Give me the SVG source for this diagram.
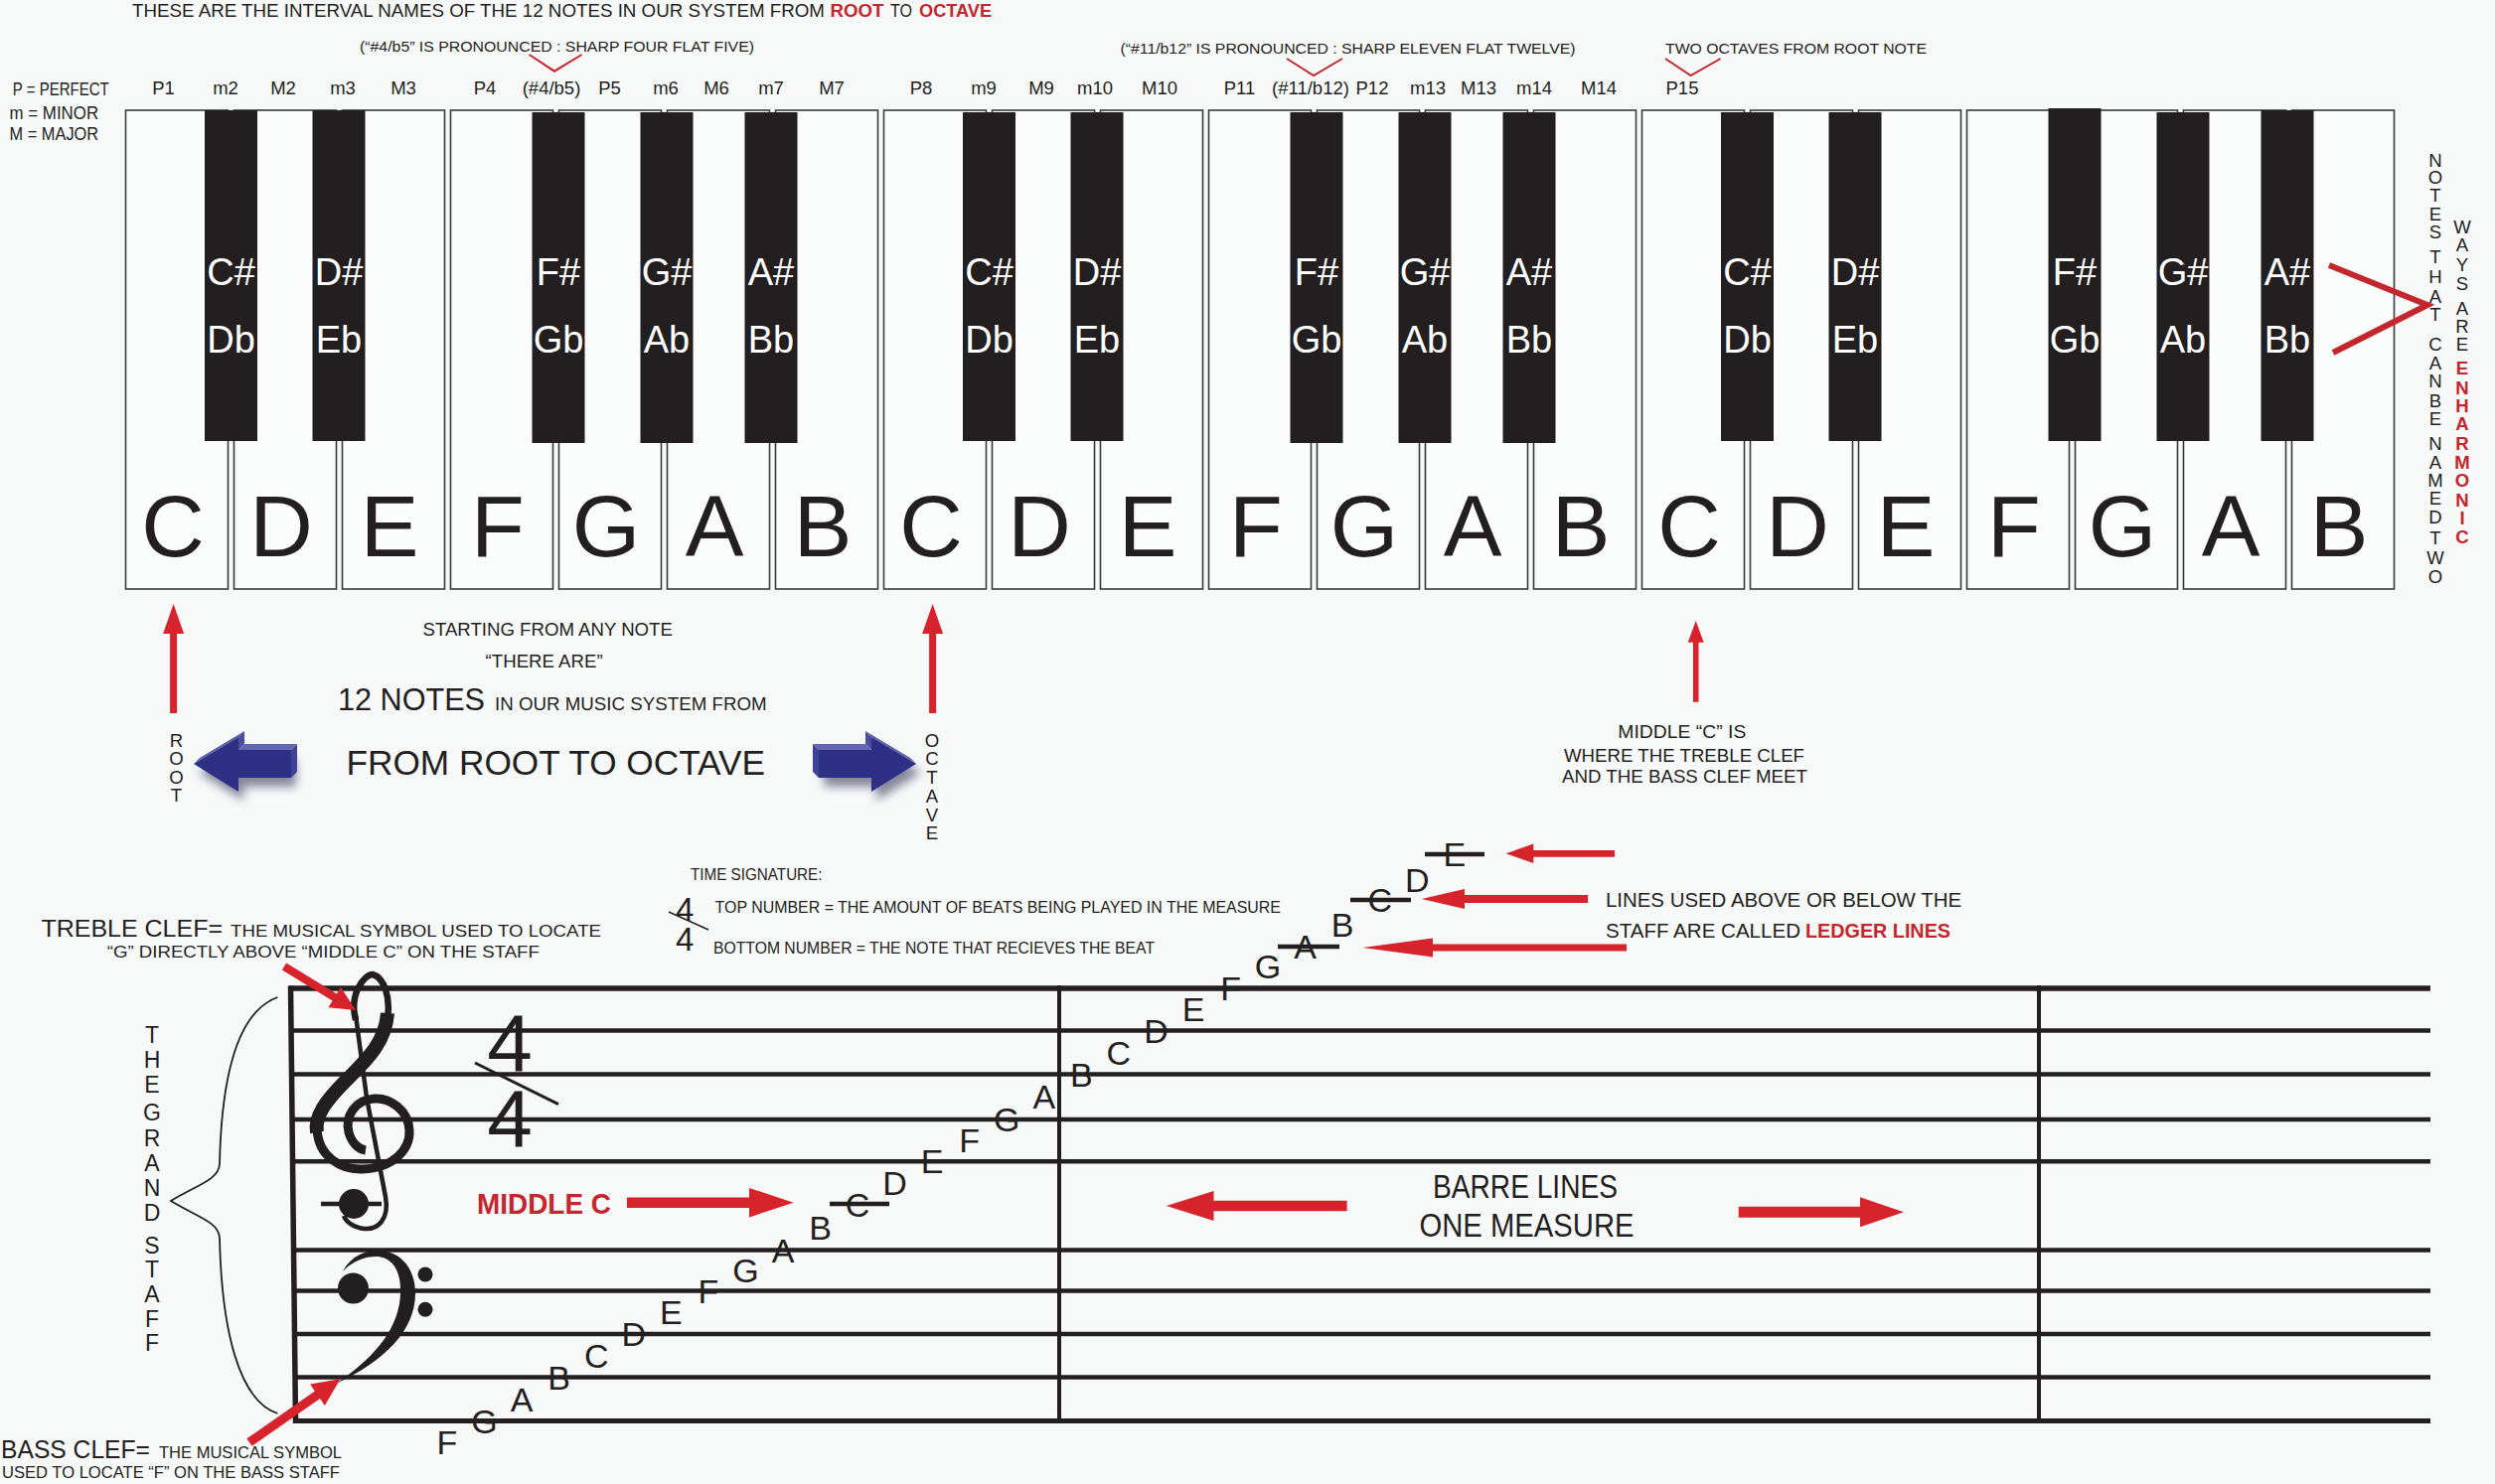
<svg xmlns="http://www.w3.org/2000/svg" width="2511" height="1494" viewBox="0 0 2511 1494">
<defs>
<style>
.t{font-family:"Liberation Sans",Arial,sans-serif;fill:#231f20}
.rb{font-family:"Liberation Sans",Arial,sans-serif;fill:#c4262e;font-weight:bold}
.iv{font-family:"Liberation Sans",Arial,sans-serif;fill:#231f20;font-size:18.5px;text-anchor:middle}
.wk{fill:#fbfcfc;stroke:#3a3a3a;stroke-width:1.6}
.bk{fill:#231f20}
.bl{font-family:"Liberation Sans",Arial,sans-serif;fill:#ffffff;font-size:38px;text-anchor:middle}
.wl{font-family:"Liberation Sans",Arial,sans-serif;fill:#231f20;font-size:88px;text-anchor:middle}
.v{font-family:"Liberation Sans",Arial,sans-serif;fill:#231f20;font-size:18.6px;text-anchor:middle}
.ra{fill:#d7232b}
.rl{fill:none;stroke:#c4262e;stroke-width:2}
.st{stroke:#231f20;stroke-width:4.5;fill:none}
.nl{font-family:"Liberation Sans",Arial,sans-serif;fill:#231f20;font-size:34px;text-anchor:middle}
.ink{fill:#231f20}
</style>
<filter id="sh" x="-40%" y="-40%" width="180%" height="200%"><feGaussianBlur stdDeviation="5"/></filter>
</defs>
<rect width="2511" height="1494" fill="#f7f9f9"/>

<g id="header">
<text class="t" x="133" y="16.5" font-size="18.5" textLength="697" lengthAdjust="spacingAndGlyphs">THESE ARE THE INTERVAL NAMES OF THE 12 NOTES IN OUR SYSTEM FROM</text>
<text class="rb" x="835.5" y="16.5" font-size="18.5" textLength="54" lengthAdjust="spacingAndGlyphs">ROOT</text>
<text class="t" x="896" y="16.5" font-size="18.5" textLength="22" lengthAdjust="spacingAndGlyphs">TO</text>
<text class="rb" x="925" y="16.5" font-size="18.5" textLength="73" lengthAdjust="spacingAndGlyphs">OCTAVE</text>
<text class="t" x="362" y="52" font-size="14.5" textLength="397" lengthAdjust="spacingAndGlyphs">(“#4/b5” IS PRONOUNCED : SHARP FOUR FLAT FIVE)</text>
<text class="t" x="1127.5" y="54" font-size="14.5" textLength="458" lengthAdjust="spacingAndGlyphs">(“#11/b12” IS PRONOUNCED : SHARP ELEVEN FLAT TWELVE)</text>
<text class="t" x="1676" y="54" font-size="14.5" textLength="263" lengthAdjust="spacingAndGlyphs">TWO OCTAVES FROM ROOT NOTE</text>
<polyline class="rl" points="532.6,55 558,71.7 585.5,55"/>
<polyline class="rl" points="1295,59 1322,76 1351,59"/>
<polyline class="rl" points="1676,59 1701.6,76 1731.6,59"/>
</g>

<g id="legend">
<text class="t" x="12.8" y="96" font-size="18.5" textLength="97" lengthAdjust="spacingAndGlyphs">P = PERFECT</text>
<text class="t" x="9.6" y="119.5" font-size="18.5" textLength="89.5" lengthAdjust="spacingAndGlyphs">m = MINOR</text>
<text class="t" x="9.6" y="141" font-size="18.5" textLength="89.5" lengthAdjust="spacingAndGlyphs">M = MAJOR</text>
</g>

<g id="intervals">
<text class="iv" x="164.5" y="95">P1</text>
<text class="iv" x="227" y="95">m2</text>
<text class="iv" x="285" y="95">M2</text>
<text class="iv" x="345" y="95">m3</text>
<text class="iv" x="406" y="95">M3</text>
<text class="iv" x="488" y="95">P4</text>
<text class="iv" x="555" y="95">(#4/b5)</text>
<text class="iv" x="613.5" y="95">P5</text>
<text class="iv" x="670" y="95">m6</text>
<text class="iv" x="721" y="95">M6</text>
<text class="iv" x="776" y="95">m7</text>
<text class="iv" x="837" y="95">M7</text>
<text class="iv" x="927" y="95">P8</text>
<text class="iv" x="990" y="95">m9</text>
<text class="iv" x="1048" y="95">M9</text>
<text class="iv" x="1102" y="95">m10</text>
<text class="iv" x="1167" y="95">M10</text>
<text class="iv" x="1247.5" y="95">P11</text>
<text class="iv" x="1319" y="95">(#11/b12)</text>
<text class="iv" x="1381" y="95">P12</text>
<text class="iv" x="1437" y="95">m13</text>
<text class="iv" x="1488" y="95">M13</text>
<text class="iv" x="1544" y="95">m14</text>
<text class="iv" x="1609" y="95">M14</text>
<text class="iv" x="1693" y="95">P15</text>
</g>

<g id="keyboard">
<g id="white-keys">
<rect class="wk" x="126.5" y="111" width="103" height="482"/>
<rect class="wk" x="235.5" y="111" width="103" height="482"/>
<rect class="wk" x="344.5" y="111" width="103" height="482"/>
<rect class="wk" x="453.5" y="111" width="103" height="482"/>
<rect class="wk" x="562.5" y="111" width="103" height="482"/>
<rect class="wk" x="671.5" y="111" width="103" height="482"/>
<rect class="wk" x="780.5" y="111" width="103" height="482"/>
<rect class="wk" x="889.5" y="111" width="103" height="482"/>
<rect class="wk" x="998.5" y="111" width="103" height="482"/>
<rect class="wk" x="1107.5" y="111" width="103" height="482"/>
<rect class="wk" x="1216.5" y="111" width="103" height="482"/>
<rect class="wk" x="1325.5" y="111" width="103" height="482"/>
<rect class="wk" x="1434.5" y="111" width="103" height="482"/>
<rect class="wk" x="1543.5" y="111" width="103" height="482"/>
<rect class="wk" x="1652.5" y="111" width="103" height="482"/>
<rect class="wk" x="1761.5" y="111" width="103" height="482"/>
<rect class="wk" x="1870.5" y="111" width="103" height="482"/>
<rect class="wk" x="1979.5" y="111" width="103" height="482"/>
<rect class="wk" x="2088.5" y="111" width="103" height="482"/>
<rect class="wk" x="2197.5" y="111" width="103" height="482"/>
<rect class="wk" x="2306.5" y="111" width="103" height="482"/>
<text class="wl" x="174 283 392 501 610 719 828 937 1046 1155 1264 1373 1482 1591 1700 1809 1918 2027 2136 2245 2354" y="560">CDEFGABCDEFGABCDEFGAB</text>
</g>
<g id="black-keys">
<rect class="bk" x="206" y="111" width="53" height="333"/>
<rect class="bk" x="314.5" y="111" width="53" height="333"/>
<rect class="bk" x="535.5" y="113" width="53" height="333"/>
<rect class="bk" x="644.5" y="113" width="53" height="333"/>
<rect class="bk" x="749.5" y="113" width="53" height="333"/>
<rect class="bk" x="969" y="113" width="53" height="331"/>
<rect class="bk" x="1077.5" y="113" width="53" height="331"/>
<rect class="bk" x="1298.5" y="113" width="53" height="333"/>
<rect class="bk" x="1407.5" y="113" width="53" height="333"/>
<rect class="bk" x="1512.5" y="113" width="53" height="333"/>
<rect class="bk" x="1732" y="113" width="53" height="331"/>
<rect class="bk" x="1840.5" y="113" width="53" height="331"/>
<rect class="bk" x="2061.5" y="109" width="53" height="335"/>
<rect class="bk" x="2170.5" y="113" width="53" height="331"/>
<rect class="bk" x="2275.5" y="111" width="53" height="333"/>
<text class="bl" x="232.5" y="287">C#</text><text class="bl" x="232.5" y="355">Db</text>
<text class="bl" x="341" y="287">D#</text><text class="bl" x="341" y="355">Eb</text>
<text class="bl" x="562" y="287">F#</text><text class="bl" x="562" y="355">Gb</text>
<text class="bl" x="671" y="287">G#</text><text class="bl" x="671" y="355">Ab</text>
<text class="bl" x="776" y="287">A#</text><text class="bl" x="776" y="355">Bb</text>
<text class="bl" x="995.5" y="287">C#</text><text class="bl" x="995.5" y="355">Db</text>
<text class="bl" x="1104" y="287">D#</text><text class="bl" x="1104" y="355">Eb</text>
<text class="bl" x="1325" y="287">F#</text><text class="bl" x="1325" y="355">Gb</text>
<text class="bl" x="1434" y="287">G#</text><text class="bl" x="1434" y="355">Ab</text>
<text class="bl" x="1539" y="287">A#</text><text class="bl" x="1539" y="355">Bb</text>
<text class="bl" x="1758.5" y="287">C#</text><text class="bl" x="1758.5" y="355">Db</text>
<text class="bl" x="1867" y="287">D#</text><text class="bl" x="1867" y="355">Eb</text>
<text class="bl" x="2088" y="287">F#</text><text class="bl" x="2088" y="355">Gb</text>
<text class="bl" x="2197" y="287">G#</text><text class="bl" x="2197" y="355">Ab</text>
<text class="bl" x="2302" y="287">A#</text><text class="bl" x="2302" y="355">Bb</text>
</g>
</g>

<g id="enharmonic-note">
<polyline points="2344,267 2443,307 2348,355" fill="none" stroke="#c4262e" stroke-width="6"/>
<text class="v" x="2451 2451 2451 2451 2451 2451 2451 2451 2451 2451 2451 2451 2451 2451 2451 2451 2451 2451 2451 2451 2451 2451 2451 2451 2451 2451 2451" y="168.4 185 203.4 221.7 240 250 265 285 305 323.4 335 353.4 371.7 390 400 410 428.4 440 453.4 471.7 490 508.4 526.7 537 548.4 568.4 586.7">NOTES THAT CAN BE NAMED TWO</text>
<text class="v" x="2478 2478 2478 2478 2478 2478 2478 2478" y="235 253.4 273.4 291.7 300 316.7 335 353.4">WAYS ARE</text>
<text class="v" style="fill:#c4262e;font-weight:bold" x="2478 2478 2478 2478 2478 2478 2478 2478 2478 2478" y="376.7 396.7 415 433.4 453.4 471.7 490 510 528.4 546.7">ENHARMONIC</text>
</g>

<g id="octave-explainer">
<text class="t" x="425.5" y="640" font-size="18.5" textLength="251.4" lengthAdjust="spacingAndGlyphs">STARTING FROM ANY NOTE</text>
<text class="t" x="488.6" y="671.7" font-size="18.5" textLength="118" lengthAdjust="spacingAndGlyphs">“THERE ARE”</text>
<text class="t" x="340" y="715" font-size="31" textLength="148" lengthAdjust="spacingAndGlyphs">12 NOTES</text>
<text class="t" x="498" y="715" font-size="18.5" textLength="273.6" lengthAdjust="spacingAndGlyphs">IN OUR MUSIC SYSTEM FROM</text>
<text class="t" x="348.5" y="780" font-size="35" textLength="421.5" lengthAdjust="spacingAndGlyphs">FROM ROOT TO OCTAVE</text>
<text class="v" x="177.5 177.5 177.5 177.5" y="751.5 769.5 788.5 806.5">ROOT</text>
<text class="v" x="938 938 938 938 938 938" y="751.5 769.5 788.5 807.5 826.5 844.5">OCTAVE</text>
</g>

<g id="blue-arrows">
<g id="blue-left">
<polygon points="195,769 240,742 240,755 293,755 293,783 240,783 240,797" fill="#14143c" opacity="0.5" transform="translate(5,9)" filter="url(#sh)"/>
<polygon points="195,769 240,742 246,736 201,763" fill="#5a5ead"/>
<polygon points="240,742 246,736 246,749 240,755" fill="#4a4ea2"/>
<polygon points="240,755 293,755 299,749 246,749" fill="#6266b3"/>
<polygon points="293,755 299,749 299,777 293,783" fill="#3d4197"/>
<polygon points="195,769 240,742 240,755 293,755 293,783 240,783 240,797" fill="#2e3086"/>
</g>
<g id="blue-right" transform="matrix(-1 0 0 1 1117 0)">
<polygon points="195,769 240,742 240,755 293,755 293,783 240,783 240,797" fill="#14143c" opacity="0.5" transform="translate(-5,9)" filter="url(#sh)"/>
<polygon points="195,769 240,742 246,736 201,763" fill="#5a5ead"/>
<polygon points="240,742 246,736 246,749 240,755" fill="#4a4ea2"/>
<polygon points="240,755 293,755 299,749 246,749" fill="#6266b3"/>
<polygon points="293,755 299,749 299,777 293,783" fill="#3d4197"/>
<polygon points="195,769 240,742 240,755 293,755 293,783 240,783 240,797" fill="#2e3086"/>
</g>
</g>

<g id="middle-c-note">
<text class="t" x="1628.3" y="743.3" font-size="18.5" textLength="129" lengthAdjust="spacingAndGlyphs">MIDDLE  “C” IS</text>
<text class="t" x="1574" y="766.7" font-size="18.5" textLength="242" lengthAdjust="spacingAndGlyphs">WHERE THE TREBLE CLEF</text>
<text class="t" x="1572" y="788.3" font-size="18.5" textLength="247" lengthAdjust="spacingAndGlyphs">AND THE BASS CLEF MEET</text>
</g>

<g id="time-signature-note">
<text class="t" x="695" y="886" font-size="16.5" textLength="132.5" lengthAdjust="spacingAndGlyphs">TIME SIGNATURE:</text>
<text class="t" x="689.3 689.3" y="927 957" font-size="33" text-anchor="middle">44</text>
<line x1="673" y1="918" x2="713" y2="936" stroke="#231f20" stroke-width="1.5"/>
<text class="t" x="719.6" y="919" font-size="16.5" textLength="569.4" lengthAdjust="spacingAndGlyphs">TOP NUMBER = THE AMOUNT OF BEATS BEING PLAYED IN THE MEASURE</text>
<text class="t" x="718" y="960" font-size="16.5" textLength="444" lengthAdjust="spacingAndGlyphs">BOTTOM NUMBER = THE NOTE THAT RECIEVES THE BEAT</text>
</g>

<g id="treble-note">
<text class="t" x="41.5" y="943.3" font-size="23.3" textLength="182.5" lengthAdjust="spacingAndGlyphs">TREBLE CLEF=</text>
<text class="t" x="232" y="943.3" font-size="16.5" textLength="373" lengthAdjust="spacingAndGlyphs">THE MUSICAL SYMBOL USED TO LOCATE</text>
<text class="t" x="107.8" y="964" font-size="16.5" textLength="435" lengthAdjust="spacingAndGlyphs">“G” DIRECTLY ABOVE “MIDDLE C” ON THE STAFF</text>
</g>

<g id="bass-note">
<text class="t" x="1" y="1468" font-size="25" textLength="150" lengthAdjust="spacingAndGlyphs">BASS CLEF=</text>
<text class="t" x="160" y="1468" font-size="17" textLength="184" lengthAdjust="spacingAndGlyphs">THE MUSICAL SYMBOL</text>
<text class="t" x="2" y="1488" font-size="17" textLength="340" lengthAdjust="spacingAndGlyphs">USED TO LOCATE “F” ON THE BASS STAFF</text>
</g>

<g id="ledger-note">
<text class="t" x="1616" y="913" font-size="21" textLength="358" lengthAdjust="spacingAndGlyphs">LINES USED ABOVE OR BELOW THE</text>
<text class="t" x="1616" y="944" font-size="21" textLength="196" lengthAdjust="spacingAndGlyphs">STAFF ARE CALLED</text>
<text class="rb" x="1817" y="944" font-size="21" textLength="146" lengthAdjust="spacingAndGlyphs">LEDGER LINES</text>
</g>

<g id="grand-staff-label">
<path d="M279.4,1004 C240,1018 223,1080 221,1172 C220,1188 198,1193 172,1209 C198,1225 220,1230 221,1246 C223,1338 240,1410 279.4,1423" fill="none" stroke="#231f20" stroke-width="1.8"/>
<text class="v" style="font-size:23px" x="153 153 153 153 153 153 153 153 153 153 153 153 153 153 153" y="1050 1075 1100 1114 1128.3 1154.3 1179 1204.3 1229 1245 1261.6 1286 1310.6 1335.6 1360">THE GRAND STAFF</text>
</g>

<g id="staff">
<line class="st" x1="291" y1="995" x2="2446" y2="995" style="stroke-width:5.5"/>
<line class="st" x1="292" y1="1037.5" x2="2446" y2="1037.5"/>
<line class="st" x1="292" y1="1081.5" x2="2446" y2="1081.5"/>
<line class="st" x1="293" y1="1127" x2="2446" y2="1127"/>
<line class="st" x1="293" y1="1169.3" x2="2446" y2="1169.3"/>
<line class="st" x1="294" y1="1258.5" x2="2446" y2="1258.5"/>
<line class="st" x1="295" y1="1299.5" x2="2446" y2="1299.5"/>
<line class="st" x1="295" y1="1343" x2="2446" y2="1343"/>
<line class="st" x1="296" y1="1386.5" x2="2446" y2="1386.5"/>
<line class="st" x1="296" y1="1430.5" x2="2446" y2="1430.5" style="stroke-width:5"/>
<line class="st" x1="292.5" y1="992.5" x2="297.5" y2="1433" style="stroke-width:5.5"/>
<line class="st" x1="1066" y1="992" x2="1066" y2="1433" style="stroke-width:4"/>
<line class="st" x1="2052" y1="992" x2="2052" y2="1433" style="stroke-width:4"/>
</g>

<g id="treble-clef">
<path d="M358,1027 C351,1000 367,981 375,981 C387,984 393,1005 390,1024" class="st" style="stroke-width:6.5"/>
<path d="M390,1020 C388,1050 368,1068 348,1088 C328,1108 316,1124 319,1140" class="st" style="stroke-width:14"/>
<path d="M319,1136 C320,1165 344,1178 365,1177 C396,1176 413,1157 412,1138 C411,1117 392,1105 377,1106 C357,1107 347,1124 351,1140 C354,1151 361,1157 368,1158" class="st" style="stroke-width:9"/>
<path d="M358,1022 L369,1105 L388,1205 C392,1228 380,1238 367,1237 C356,1236 348,1230 346,1224" class="st" style="stroke-width:4.5"/>
<circle class="ink" cx="356" cy="1212" r="15"/>
<line class="st" x1="323" y1="1212" x2="384" y2="1212"/>
</g>

<g id="bass-clef">
<path class="ink" d="M345,1280 C352,1266 366,1259 380,1259 C404,1259 418,1278 418,1302 C418,1340 386,1371 338,1393 C380,1365 402,1335 403,1302 C404,1280 395,1265 378,1265 C365,1265 352,1272 345,1280 Z"/>
<circle class="ink" cx="355.5" cy="1297" r="15.5"/>
<circle class="ink" cx="428" cy="1283" r="7.5"/>
<circle class="ink" cx="428" cy="1318.3" r="7.5"/>
</g>

<g id="time-signature">
<text class="t" x="513 513" y="1078.5 1155" font-size="82" text-anchor="middle">44</text>
<line x1="478" y1="1070" x2="562" y2="1111.7" stroke="#231f20" stroke-width="3"/>
</g>

<g id="ledger-lines">
<line class="st" x1="835" y1="1212" x2="895" y2="1212"/>
<line class="st" x1="1286" y1="953" x2="1348" y2="953"/>
<line class="st" x1="1359" y1="906" x2="1420" y2="906"/>
<line class="st" x1="1434" y1="860" x2="1494" y2="860"/>
</g>

<g id="note-names">
<text class="nl" x="450" y="1464">F</text>
<text class="nl" x="487.6" y="1442.5">G</text>
<text class="nl" x="525.1" y="1420.5">A</text>
<text class="nl" x="562.7" y="1398.5">B</text>
<text class="nl" x="600.2" y="1376.8">C</text>
<text class="nl" x="637.8" y="1355">D</text>
<text class="nl" x="675.3" y="1333.3">E</text>
<text class="nl" x="712.9" y="1311.5">F</text>
<text class="nl" x="750.4" y="1291">G</text>
<text class="nl" x="788" y="1270.5">A</text>
<text class="nl" x="825.5" y="1248">B</text>
<text class="nl" x="863.1" y="1224.5">C</text>
<text class="nl" x="900.6" y="1203">D</text>
<text class="nl" x="938.2" y="1181.3">E</text>
<text class="nl" x="975.7" y="1160">F</text>
<text class="nl" x="1013.3" y="1139">G</text>
<text class="nl" x="1050.8" y="1116">A</text>
<text class="nl" x="1088.4" y="1093.5">B</text>
<text class="nl" x="1125.9" y="1071.5">C</text>
<text class="nl" x="1163.5" y="1049.5">D</text>
<text class="nl" x="1201" y="1028">E</text>
<text class="nl" x="1238.6" y="1007">F</text>
<text class="nl" x="1276.1" y="985">G</text>
<text class="nl" x="1313.7" y="965">A</text>
<text class="nl" x="1351.2" y="943">B</text>
<text class="nl" x="1388.8" y="918">C</text>
<text class="nl" x="1426.3" y="898">D</text>
<text class="nl" x="1463.9" y="872">E</text>
</g>

<g id="middle-c-label">
<text class="rb" x="480" y="1221.7" font-size="30" textLength="135" lengthAdjust="spacingAndGlyphs">MIDDLE C</text>
</g>

<g id="barre-label">
<text class="t" x="1442" y="1206" font-size="33" textLength="186" lengthAdjust="spacingAndGlyphs">BARRE LINES</text>
<text class="t" x="1428.5" y="1245" font-size="33" textLength="216" lengthAdjust="spacingAndGlyphs">ONE MEASURE</text>
</g>

<g id="connectors">
<polygon class="ra" points="171.1,718 171.1,638 164.1,638 174.6,608 185.1,638 178.1,638 178.1,718"/>
<polygon class="ra" points="935.1,718 935.1,638 928.1,638 938.6,608 949.1,638 942.1,638 942.1,718"/>
<polygon class="ra" points="1703.9,706.7 1703.9,646.7 1698.7,646.7 1706.7,625 1714.7,646.7 1709.5,646.7 1709.5,706.7"/>
<polygon class="ra" points="1625,855.9 1543.3,855.9 1543.3,849.6 1515.6,859.3 1543.3,869 1543.3,862.7 1625,862.7"/>
<polygon class="ra" points="1598,901 1474,901 1474,895 1430.8,905 1474,915 1474,909 1598,909"/>
<polygon class="ra" points="1637,950.4 1442,950.4 1442,944.5 1371.4,954 1442,963.5 1442,957.6 1637,957.6"/>
<polygon class="ra" points="288.1,969.6 338.8,1000.6 342.9,993.8 358,1017 330.4,1014.2 334.6,1007.4 283.9,976.4"/>
<polygon class="ra" points="248.4,1448.3 316.9,1400.5 312.1,1393.5 342.5,1388.3 326.9,1414.9 322.1,1407.9 253.6,1455.7"/>
<polygon class="ra" points="631,1205.4 754,1205.4 754,1195.9 798.6,1210.7 754,1225.5 754,1216 631,1216"/>
<polygon class="ra" points="1355.6,1208.7 1221.5,1208.7 1221.5,1199 1173.8,1214 1221.5,1229 1221.5,1219.3 1355.6,1219.3"/>
<polygon class="ra" points="1749.7,1214.8 1872,1214.8 1872,1205.3 1916,1220.3 1872,1235.3 1872,1225.8 1749.7,1225.8"/>
</g>
</svg>
